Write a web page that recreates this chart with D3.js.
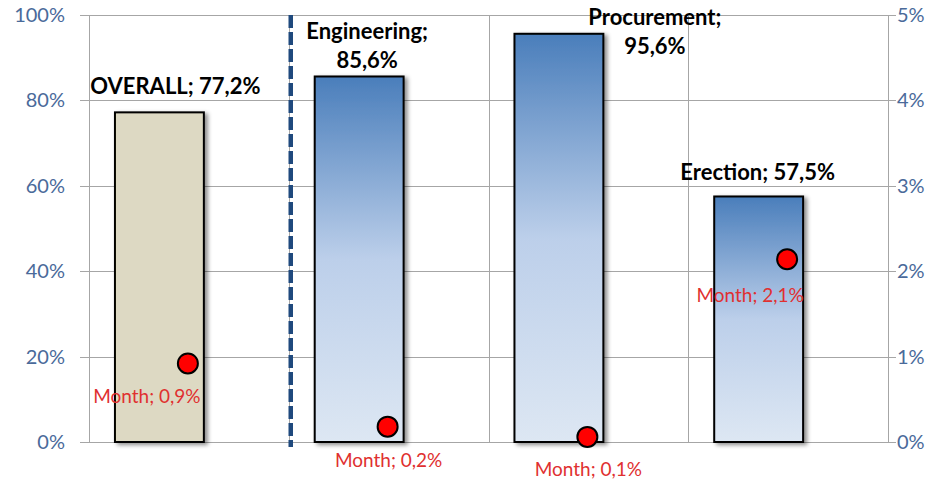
<!DOCTYPE html>
<html>
<head>
<meta charset="utf-8">
<script src="https://cdn.jsdelivr.net/npm/d3@7"></script>
<style>
  body { margin: 0; background: #fff; }
  text { font-family: Lato, "Open Sans", sans-serif; }
</style>
</head>
<body>
<script>
var svgWidth = 944;
var svgHeight = 479;

// data
var categories = ["OVERALL", "Engineering", "Procurement", "Erection"];
var progress = [77.2, 85.6, 95.6, 57.5];      // primary axis, %
var month = [0.92, 0.18, 0.06, 2.14];          // secondary axis, %
var leftTicks = [0, 20, 40, 60, 80, 100];
var rightTicks = [0, 1, 2, 3, 4, 5];

// label placement (manual, as in the original sheet)
var labelLines = [["OVERALL; 77,2%"], ["Engineering;", "85,6%"], ["Procurement;", "95,6%"], ["Erection; 57,5%"]];
var labelOffsets = [[16, -18], [8, -37], [96, -9], [-1, -16]];
var monthOffsets = [[-41, 40], [1, 40], [1, 39], [-37, 43]];

var margin = { top: 15, right: 56, bottom: 37, left: 89 };
var w = svgWidth - margin.left - margin.right;
var h = svgHeight - margin.top - margin.bottom;

var svg = d3.select("body").append("svg")
    .attr("width", svgWidth)
    .attr("height", svgHeight);

var defs = svg.append("defs");
var grad = defs.append("linearGradient")
    .attr("id", "blueGrad")
    .attr("x1", 0).attr("y1", 0).attr("x2", 0).attr("y2", 1);
grad.append("stop").attr("offset", "0%").attr("stop-color", "#4a7ebb");
grad.append("stop").attr("offset", "50%").attr("stop-color", "#bccfea");
grad.append("stop").attr("offset", "100%").attr("stop-color", "#dde7f3");

var shadow = defs.append("filter").attr("id", "shadow")
    .attr("x", "-20%").attr("y", "-10%").attr("width", "150%").attr("height", "130%");
shadow.append("feDropShadow")
    .attr("dx", 3).attr("dy", 2).attr("stdDeviation", 2)
    .attr("flood-color", "#000").attr("flood-opacity", 0.45);

var g = svg.append("g").attr("transform", `translate(${margin.left},${margin.top})`);

var xscale = d3.scaleBand().domain(categories).range([0, w]);
var yscale = d3.scaleLinear().domain([0, 100]).range([h, 0]);
var y2scale = d3.scaleLinear().domain([0, 5]).range([h, 0]);

var fmt = function(v){ return v.toFixed(1).replace(".", ",") + "%"; };

// horizontal gridlines (with tick stubs on both sides)
g.selectAll(".hgrid")
  .data(leftTicks)
  .enter()
  .append("line")
  .attr("x1", -9)
  .attr("x2", w + 8)
  .attr("y1", function(d){ return Math.round(yscale(d)) + 0.5; })
  .attr("y2", function(d){ return Math.round(yscale(d)) + 0.5; })
  .attr("stroke", "#a6a6a6")
  .attr("stroke-width", 1);

// vertical gridlines at category boundaries
var bounds = categories.map(function(c){ return xscale(c); }).concat([w]);
g.selectAll(".vgrid")
  .data(bounds)
  .enter()
  .append("line")
  .attr("x1", function(d){ return Math.round(d) + 0.5; })
  .attr("x2", function(d){ return Math.round(d) + 0.5; })
  .attr("y1", 0)
  .attr("y2", h)
  .attr("stroke", "#a6a6a6")
  .attr("stroke-width", 1);

// left axis labels
g.selectAll(".ltick")
  .data(leftTicks)
  .enter()
  .append("text")
  .attr("x", -24)
  .attr("y", function(d){ return yscale(d) + 7; })
  .attr("text-anchor", "end")
  .attr("font-size", "20px")
  .attr("fill", "#4a6a9a")
  .text(function(d){ return d + "%"; });

// right axis labels
g.selectAll(".rtick")
  .data(rightTicks)
  .enter()
  .append("text")
  .attr("x", w + 9)
  .attr("y", function(d){ return y2scale(d) + 7; })
  .attr("text-anchor", "start")
  .attr("font-size", "20px")
  .attr("fill", "#4a6a9a")
  .text(function(d){ return d + "%"; });

// bars
var barOff = xscale.bandwidth() * 0.13;
var barW = xscale.bandwidth() * 0.445;
g.selectAll(".bar")
  .data(progress)
  .enter()
  .append("rect")
  .attr("x", function(d, i){ return xscale(categories[i]) + barOff; })
  .attr("y", function(d){ return yscale(d); })
  .attr("width", barW)
  .attr("height", function(d){ return h - yscale(d); })
  .attr("fill", function(d, i){ return i === 0 ? "#ddd9c3" : "url(#blueGrad)"; })
  .attr("stroke", "#000")
  .attr("stroke-width", 2)
  .attr("filter", "url(#shadow)");

// dashed separator after OVERALL
g.append("line")
  .attr("x1", xscale("Engineering") + 2)
  .attr("x2", xscale("Engineering") + 2)
  .attr("y1", 0)
  .attr("y2", h + 5)
  .attr("stroke", "#1f497d")
  .attr("stroke-width", 4.5)
  .attr("stroke-dasharray", "13,4");

// bar labels
progress.forEach(function(d, i){
  var cx = xscale(categories[i]) + barOff + barW / 2 + labelOffsets[i][0];
  var by = yscale(d) + labelOffsets[i][1];
  var t = g.append("text")
    .attr("x", cx)
    .attr("y", by)
    .attr("text-anchor", "middle")
    .attr("font-size", "22px")
    .attr("font-weight", "bold")
    .attr("fill", "#000");
  labelLines[i].forEach(function(line, k){
    t.append("tspan").attr("x", cx).attr("dy", k === 0 ? 0 : 29).text(line);
  });
});

// month dots
var dotX = function(i){ return xscale(categories[i]) + xscale.bandwidth() / 2 - 1; };
g.selectAll(".dot")
  .data(month)
  .enter()
  .append("circle")
  .attr("cx", function(d, i){ return dotX(i); })
  .attr("cy", function(d){ return y2scale(d); })
  .attr("r", 10)
  .attr("fill", "#ff0000")
  .attr("stroke", "#000")
  .attr("stroke-width", 2);

g.selectAll(".mlabel")
  .data(month)
  .enter()
  .append("text")
  .attr("x", function(d, i){ return dotX(i) + monthOffsets[i][0]; })
  .attr("y", function(d){ return y2scale(d); })
  .attr("dy", function(d, i){ return monthOffsets[i][1]; })
  .attr("text-anchor", "middle")
  .attr("font-size", "19px")
  .attr("fill", "#e03030")
  .text(function(d){ return "Month; " + fmt(d); });
</script>
</body>
</html>
